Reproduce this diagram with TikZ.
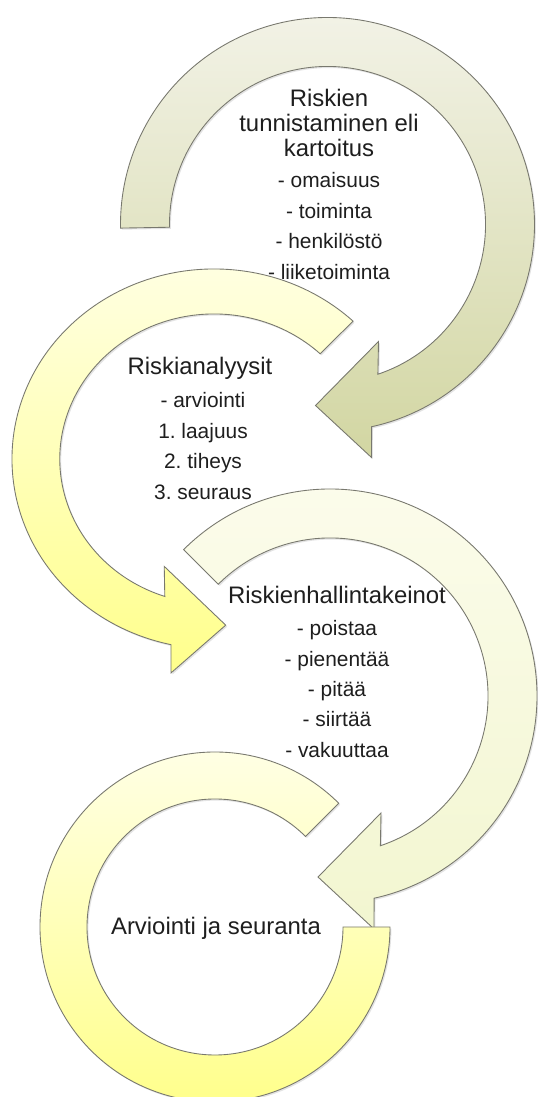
\documentclass[tikz,border=0pt]{standalone}
\usepackage{fontspec}
\setmainfont{Liberation Sans}
\usepackage{tikz}
\usetikzlibrary{shadows}
\frenchspacing
\definecolor{oliveTop}{RGB}{242,242,230}
\definecolor{oliveBot}{RGB}{210,214,162}
\definecolor{yellowTop}{RGB}{255,255,228}
\definecolor{yellowBot}{RGB}{255,255,140}
\definecolor{paleTop}{RGB}{252,252,236}
\definecolor{paleBot}{RGB}{242,246,208}
\definecolor{ringEdge}{RGB}{120,120,110}
\definecolor{tekstiMusta}{RGB}{30,30,30}
\tikzset{
  ca/ring/.style={draw=ringEdge, line width=0.5pt,
    drop shadow={shadow xshift=0.8pt, shadow yshift=-0.9pt, opacity=0.22}},
  ca/olive/.style={ca/ring, top color=oliveTop, bottom color=oliveBot},
  ca/yellow/.style={ca/ring, top color=yellowTop, bottom color=yellowBot},
  ca/pale/.style={ca/ring, top color=paleTop, bottom color=paleBot},
  ca/title/.style={font=\fontsize{13.6}{14.2}\selectfont, align=center,
    text=tekstiMusta, inner sep=0pt},
  ca/item/.style={font=\fontsize{11.9}{17.3}\selectfont, align=center,
    text=tekstiMusta, inner sep=0pt}
}
% circular arrow around the origin, clockwise from #1 to the head at the bottom
\newcommand{\ringarrow}[1]{%
  (#1:207) arc[start angle=#1, end angle=-77.7, radius=207]
  -- (44,-233) -- (-12,-181) -- (51,-117)
  -- (-71.4:158) arc[start angle=-71.4, end angle=#1, radius=158] -- cycle}

\begin{document}
\begin{tikzpicture}[x=0.02cm, y=0.02cm]
  \useasboundingbox[fill=white] (0,0) rectangle (537,1097);

  % rings
  \begin{scope}[shift={(327.5,872.5)}]
    \path[ca/olive] \ringarrow{181};
  \end{scope}
  \begin{scope}[shift={(214,638)}, xscale=-0.976, yscale=0.918]
    \path[ca/yellow] \ringarrow{133.5};
  \end{scope}
  \begin{scope}[shift={(330,401)}]
    \path[ca/pale] \ringarrow{135};
  \end{scope}
  \begin{scope}[shift={(215,170)}]
    \path[ca/yellow] (0:175) arc[start angle=0, end angle=-315, radius=175]
      -- (45:128) arc[start angle=-315, end angle=0, radius=128] -- cycle;
  \end{scope}

  % texts
  \node[ca/title] (t1) at (329,974) {Riskien\\tunnistaminen eli\\kartoitus};
  \node[ca/item]  (i1) at (329,871) {- omaisuus\\- toiminta\\- henkilöstö\\- liiketoiminta};
  \node[ca/title] (t2) at (200,729) {Riskianalyysit};
  \node[ca/item]  (i2) at (203,651) {- arviointi\\1. laajuus\\2. tiheys\\3. seuraus};
  \node[ca/title] (t3) at (337,502) {Riskienhallintakeinot};
  \node[ca/item]  (i3) at (337,408) {- poistaa\\- pienentää\\- pitää\\- siirtää\\- vakuuttaa};
  \node[ca/title] (t4) at (216,169) {Arviointi ja seuranta};
\end{tikzpicture}
\end{document}
